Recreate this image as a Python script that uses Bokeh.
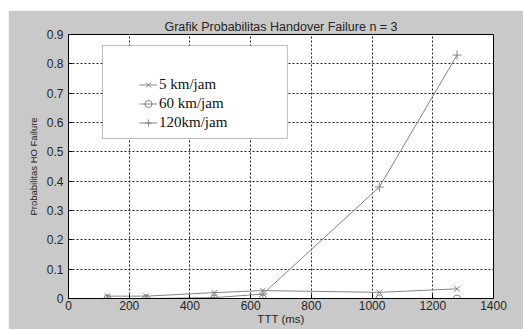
from bokeh.plotting import figure
from bokeh.models import (FixedTicker, Legend, LegendItem, BoxAnnotation, Spacer)
from bokeh.layouts import column, row
from bokeh.embed import file_html
from bokeh.resources import INLINE

# ---- data ----
ttt = [128, 256, 480, 640, 1024, 1280]
p_5kmh = [0.008, 0.008, 0.02, 0.027, 0.021, 0.033]
p_60kmh = [0.0, 0.0, 0.0, 0.0, 0.0, 0.0]
p_120kmh = [0.0, 0.0, 0.003, 0.015, 0.38, 0.83]
series_labels = ["5 km/jam", "60 km/jam", "120km/jam"]
x_ticks = [0, 200, 400, 600, 800, 1000, 1200, 1400]
y_ticks = [0, 0.1, 0.2, 0.3, 0.4, 0.5, 0.6, 0.7, 0.8, 0.9]
title_text = "Grafik Probabilitas Handover Failure n = 3"
x_label = "TTT (ms)"
y_label = "Probabilitas HO Failure"

BG = "#c9c9c9"
LINE = "#858585"
TXT = "#262626"
SANS = "Liberation Sans"

p = figure(frame_width=425, frame_height=264, x_range=(0, 1400), y_range=(0, 0.9),
           output_backend="svg", toolbar_location=None, title=title_text,
           min_border_left=60, min_border_right=30, min_border_top=24, min_border_bottom=31)
p.background_fill_color = "white"
p.border_fill_color = BG
p.outline_line_color = "black"
p.outline_line_width = 1

p.title.align = "center"
p.title.text_font = SANS
p.title.text_font_size = "12.5px"
p.title.text_font_style = "normal"
p.title.text_color = TXT
p.title.standoff = 2

for ax, ticks in ((p.xaxis[0], x_ticks), (p.yaxis[0], y_ticks)):
    ax.ticker = FixedTicker(ticks=ticks)
    ax.major_tick_in = 4
    ax.major_tick_out = 0
    ax.minor_tick_line_color = None
    ax.axis_line_color = "black"
    ax.major_tick_line_color = "black"
    ax.major_label_text_font = SANS
    ax.major_label_text_font_size = "12px"
    ax.major_label_text_color = TXT
    ax.axis_label_text_font = SANS
    ax.axis_label_text_font_style = "normal"
    ax.axis_label_text_color = TXT

p.xaxis.axis_label = x_label
p.yaxis.axis_label = y_label
p.xaxis.axis_label_text_font_size = "11.5px"
p.yaxis.axis_label_text_font_size = "9.5px"
p.xaxis.major_label_standoff = 2
p.xaxis.axis_label_standoff = 0
p.yaxis.major_label_standoff = 5
p.yaxis.axis_label_standoff = 5
p.yaxis.major_label_overrides = {0: "0"}

p.xgrid.ticker = FixedTicker(ticks=x_ticks[1:-1])
p.ygrid.ticker = FixedTicker(ticks=y_ticks[1:-1])
for g in (p.xgrid[0], p.ygrid[0]):
    g.grid_line_color = "#222222"
    g.grid_line_dash = "2 2"
    g.grid_line_width = 1

# series
r1l = p.line(ttt, p_5kmh, line_color=LINE, line_width=1)
r1m = p.scatter(ttt, p_5kmh, marker="x", size=8, line_color=LINE, fill_color=None)
r2l = p.line(ttt, p_60kmh, line_color=LINE, line_width=1)
r2m = p.scatter(ttt, p_60kmh, marker="circle", size=7, line_color=LINE, fill_color=None)
r3l = p.line(ttt, p_120kmh, line_color=LINE, line_width=1)
r3m = p.scatter(ttt, p_120kmh, marker="cross", size=9, line_color=LINE, fill_color=None)

# legend box (white panel with black border)
box = BoxAnnotation(left=112, right=721, top=0.8626, bottom=0.5455,
                    fill_color="white", fill_alpha=1.0,
                    line_color="#222222", line_width=1)
p.add_layout(box)

legend = Legend(items=[
    LegendItem(label=series_labels[0], renderers=[r1l, r1m]),
    LegendItem(label=series_labels[1], renderers=[r2l, r2m]),
    LegendItem(label=series_labels[2], renderers=[r3l, r3m]),
], location=(71, 166), padding=0, margin=0, spacing=0,
   glyph_width=18, glyph_height=19, label_height=19, label_standoff=2,
   border_line_color=None, background_fill_alpha=0.0,
   label_text_font="Liberation Serif", label_text_font_size="15px",
   label_text_color="#111111")
p.add_layout(legend)

page = column(Spacer(width=523, height=10), row(Spacer(width=8, height=319), p))
open("out.html", "w").write(file_html(page, INLINE))
